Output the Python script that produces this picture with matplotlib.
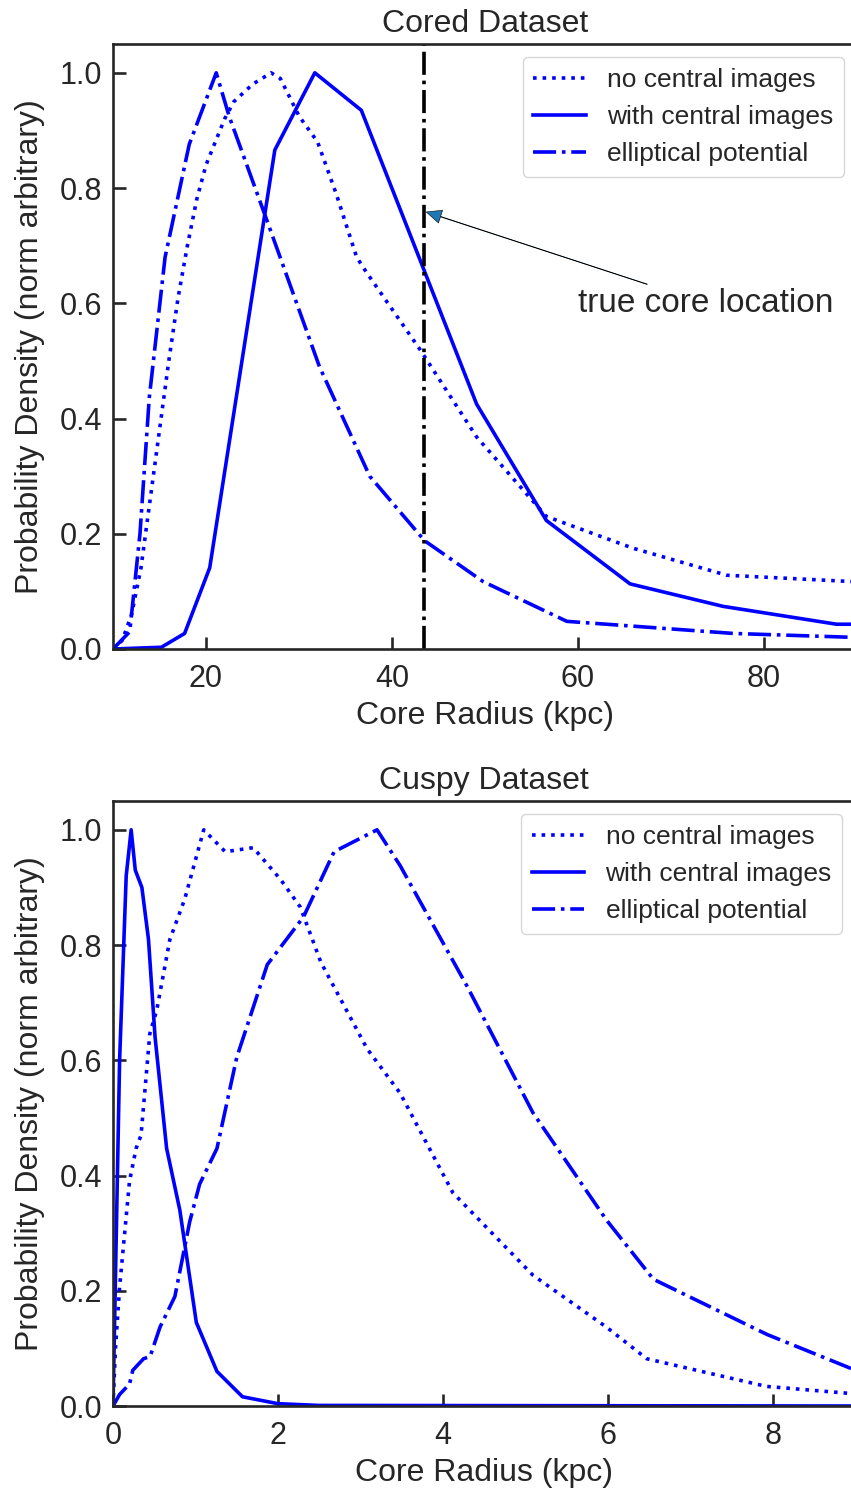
import matplotlib
matplotlib.use('Agg')
import matplotlib.pyplot as plt

plt.rcParams['font.family'] = ['Liberation Sans', 'DejaVu Sans']
plt.rcParams['text.color'] = '.15'
plt.rcParams['axes.labelcolor'] = '.15'
plt.rcParams['xtick.color'] = '.15'
plt.rcParams['ytick.color'] = '.15'
plt.rcParams['axes.edgecolor'] = '.15'

# --- Cored dataset (kpc) ---
cored_nc_x = [10, 11, 12, 13, 14, 15, 16, 17, 18, 19, 20, 21, 22, 23, 25, 27, 28, 30, 32, 34, 36.2, 37.2, 43.0, 49.1, 56.6, 65.9, 76.0, 89.5]
cored_nc_y = [0.0, 0.015, 0.06, 0.14, 0.26, 0.38, 0.50, 0.61, 0.70, 0.78, 0.84, 0.88, 0.92, 0.95, 0.98, 1.0, 0.99, 0.925, 0.88, 0.79, 0.68, 0.655, 0.52, 0.368, 0.23, 0.175, 0.128, 0.117]

cored_wc_x = [10, 15.2, 17.7, 20.4, 27.4, 31.7, 36.7, 49.1, 56.6, 65.6, 75.6, 87.8, 90]
cored_wc_y = [0.0, 0.003, 0.027, 0.141, 0.866, 1.0, 0.935, 0.425, 0.223, 0.113, 0.074, 0.043, 0.043]

cored_el_x = [10, 11.8, 12.9, 13.9, 15.6, 18.2, 21.1, 22.5, 26.5, 32.2, 37.6, 43.5, 49.8, 58.8, 76.7, 90]
cored_el_y = [0.0, 0.03, 0.2, 0.436, 0.68, 0.876, 1.0, 0.924, 0.746, 0.49, 0.30, 0.188, 0.117, 0.048, 0.027, 0.02]

true_core = 43.4

# --- Cuspy dataset (kpc) ---
cuspy_nc_x = [0, 0.03, 0.08, 0.2, 0.28, 0.34, 0.446, 0.53, 0.69, 0.87, 1.1, 1.36, 1.70, 2.03, 2.27, 2.52, 3.08, 3.48, 4.12, 5.09, 5.98, 6.47, 7.92, 9.0]
cuspy_nc_y = [0.0, 0.1, 0.206, 0.39, 0.447, 0.47, 0.646, 0.687, 0.81, 0.88, 1.0, 0.962, 0.969, 0.914, 0.866, 0.77, 0.62, 0.543, 0.37, 0.227, 0.137, 0.082, 0.034, 0.021]

cuspy_wc_x = [0, 0.04, 0.08, 0.16, 0.22, 0.27, 0.35, 0.43, 0.51, 0.65, 0.81, 1.01, 1.26, 1.57, 2.0, 2.5, 9.0]
cuspy_wc_y = [0.0, 0.3, 0.6, 0.92, 1.0, 0.93, 0.9, 0.81, 0.64, 0.447, 0.34, 0.145, 0.06, 0.016, 0.004, 0.001, 0.0]

cuspy_el_x = [0, 0.08, 0.2, 0.24, 0.37, 0.45, 0.57, 0.75, 0.93, 1.05, 1.26, 1.5, 1.87, 2.31, 2.68, 3.2, 3.48, 4.29, 5.09, 5.98, 6.55, 7.93, 9.0]
cuspy_el_y = [0.0, 0.02, 0.038, 0.062, 0.082, 0.086, 0.137, 0.19, 0.32, 0.385, 0.447, 0.605, 0.766, 0.849, 0.962, 1.0, 0.938, 0.729, 0.509, 0.323, 0.22, 0.124, 0.062]

labels = ['no central images', 'with central images', 'elliptical potential']
yticks = [0.0, 0.2, 0.4, 0.6, 0.8, 1.0]

fig = plt.figure(figsize=(8.51, 14.91), dpi=100)
ax1 = fig.add_axes([113/851, 842/1491, 744/851, 605/1491])
ax2 = fig.add_axes([113/851, 85/1491, 742.5/851, 605/1491])

LW = 2.6

def style(ax, title):
    ax.set_ylim(0, 1.05)
    ax.set_yticks(yticks)
    ax.set_yticklabels(['%.1f' % t for t in yticks])
    ax.tick_params(direction='in', length=9, width=1.9, labelsize=22)
    ax.tick_params(axis='x', pad=11)
    ax.tick_params(axis='y', pad=8)
    for s in ax.spines.values():
        s.set_linewidth(1.9)
    ax.set_xlabel('Core Radius (kpc)', fontsize=23, labelpad=5)
    ax.set_ylabel('Probability Density (norm arbitrary)', fontsize=23, labelpad=10)
    ax.set_title(title, fontsize=23, pad=9)
    leg = ax.legend(fontsize=19, loc='upper right', handlelength=2.0,
                    borderaxespad=0.5, fancybox=True)
    leg.get_frame().set_edgecolor('.8')

# top panel
ax1.plot(cored_nc_x, cored_nc_y, color='b', ls=':', lw=LW, label=labels[0])
ax1.plot(cored_wc_x, cored_wc_y, color='b', ls='-', lw=LW, label=labels[1])
ax1.plot(cored_el_x, cored_el_y, color='b', ls='-.', lw=LW, label=labels[2])
ax1.axvline(true_core, color='k', ls='-.', lw=LW)
ax1.set_xlim(10, 90)
ax1.set_xticks([20, 40, 60, 80])
ax1.annotate('true core location', xy=(true_core, 0.76), xytext=(60, 0.585),
             fontsize=24,
             arrowprops=dict(arrowstyle='simple,head_length=0.45,head_width=0.4,tail_width=0.015',
                             fc='#1f77b4', ec='k', lw=0.4))
style(ax1, 'Cored Dataset')

# bottom panel
ax2.plot(cuspy_nc_x, cuspy_nc_y, color='b', ls=':', lw=LW, label=labels[0])
ax2.plot(cuspy_wc_x, cuspy_wc_y, color='b', ls='-', lw=LW, label=labels[1])
ax2.plot(cuspy_el_x, cuspy_el_y, color='b', ls='-.', lw=LW, label=labels[2])
ax2.set_xlim(0, 9)
ax2.set_xticks([0, 2, 4, 6, 8])
style(ax2, 'Cuspy Dataset')

fig.savefig('out.png', dpi=100)
